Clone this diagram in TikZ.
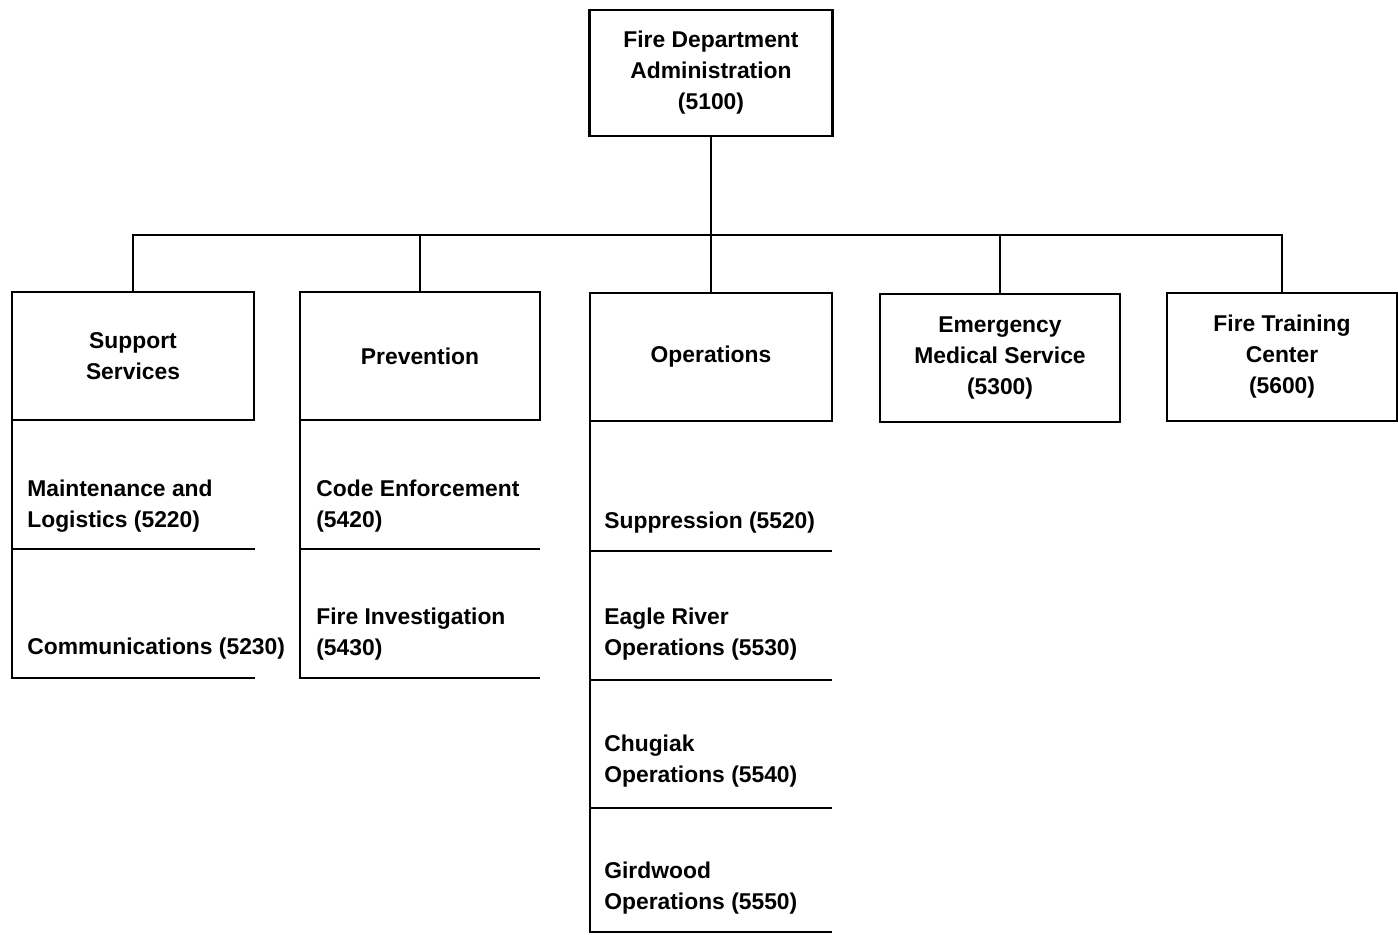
\documentclass[tikz,border=0pt]{standalone}
\usepackage{fontspec}
\setmainfont{Liberation Sans}
\usepackage{tikz}
\usetikzlibrary{positioning}

\begin{document}
\begin{tikzpicture}[
        x=0.02cm, y=-0.02cm,
        unit/.style={draw, line width=1.5pt, outer sep=0pt, minimum width=4.84cm, minimum height=2.56cm, align=center, inner sep=0pt,
                     font=\fontsize{13}{17.6}\selectfont\bfseries},
        item/.style={anchor=west, align=left, inner sep=0pt, font=\fontsize{13}{17.6}\selectfont\bfseries},
        link/.style={line width=1.5pt},
        rule/.style={line width=1.5pt}
    ]
    \useasboundingbox (0,0) rectangle (1398,934);
    \node[unit, minimum width=4.86cm, minimum height=2.52cm] (admin) at (711,73) {Fire Department\\Administration\\(5100)};
    \node[unit] (support) at (133,356) {Support\\Services};
    \node[unit, minimum width=4.8cm] (prev) at (420,356) {Prevention};
    \node[unit] (ops) at (711,357) {Operations};
    \node[unit, minimum width=4.8cm] (ems) at (1000,358) {Emergency\\Medical Service\\(5300)};
    \node[unit, minimum width=4.6cm] (train) at (1282,357) {Fire Training\\Center\\(5600)};
    \coordinate (bus) at (133,235);
    \draw[link] (admin.south) -- (ops.north);
    \draw[link] (support.north) -- (support.north |- bus) -- (train.north |- bus) -- (train.north);
    \draw[link] (prev.north) -- (prev.north |- bus);
    \draw[link] (ems.north) -- (ems.north |- bus);

    % sections under each unit
    \node[item] (maint) at (27,506) {Maintenance and\\Logistics (5220)};
    \node[item] (comm) at (27,649) {Communications (5230)};
    \node[item] (code) at (316,506) {Code Enforcement\\(5420)};
    \node[item] (invest) at (316,634) {Fire Investigation\\(5430)};
    \node[item] (suppr) at (604,523) {Suppression (5520)};
    \node[item] (eagle) at (604,634) {Eagle River\\Operations (5530)};
    \node[item] (chugiak) at (604,761) {Chugiak\\Operations (5540)};
    \node[item] (girdwood) at (604,888) {Girdwood\\Operations (5550)};

    \draw[rule] (support.south west) |- (255,678);
    \draw[rule] (12,549) -- (255,549);
    \draw[rule] (prev.south west) |- (540,678);
    \draw[rule] (300,549) -- (540,549);
    \draw[rule] (ops.south west) |- (832,932);
    \draw[rule] (590,551) -- (832,551);
    \draw[rule] (590,680) -- (832,680);
    \draw[rule] (590,808) -- (832,808);
\end{tikzpicture}
\end{document}
